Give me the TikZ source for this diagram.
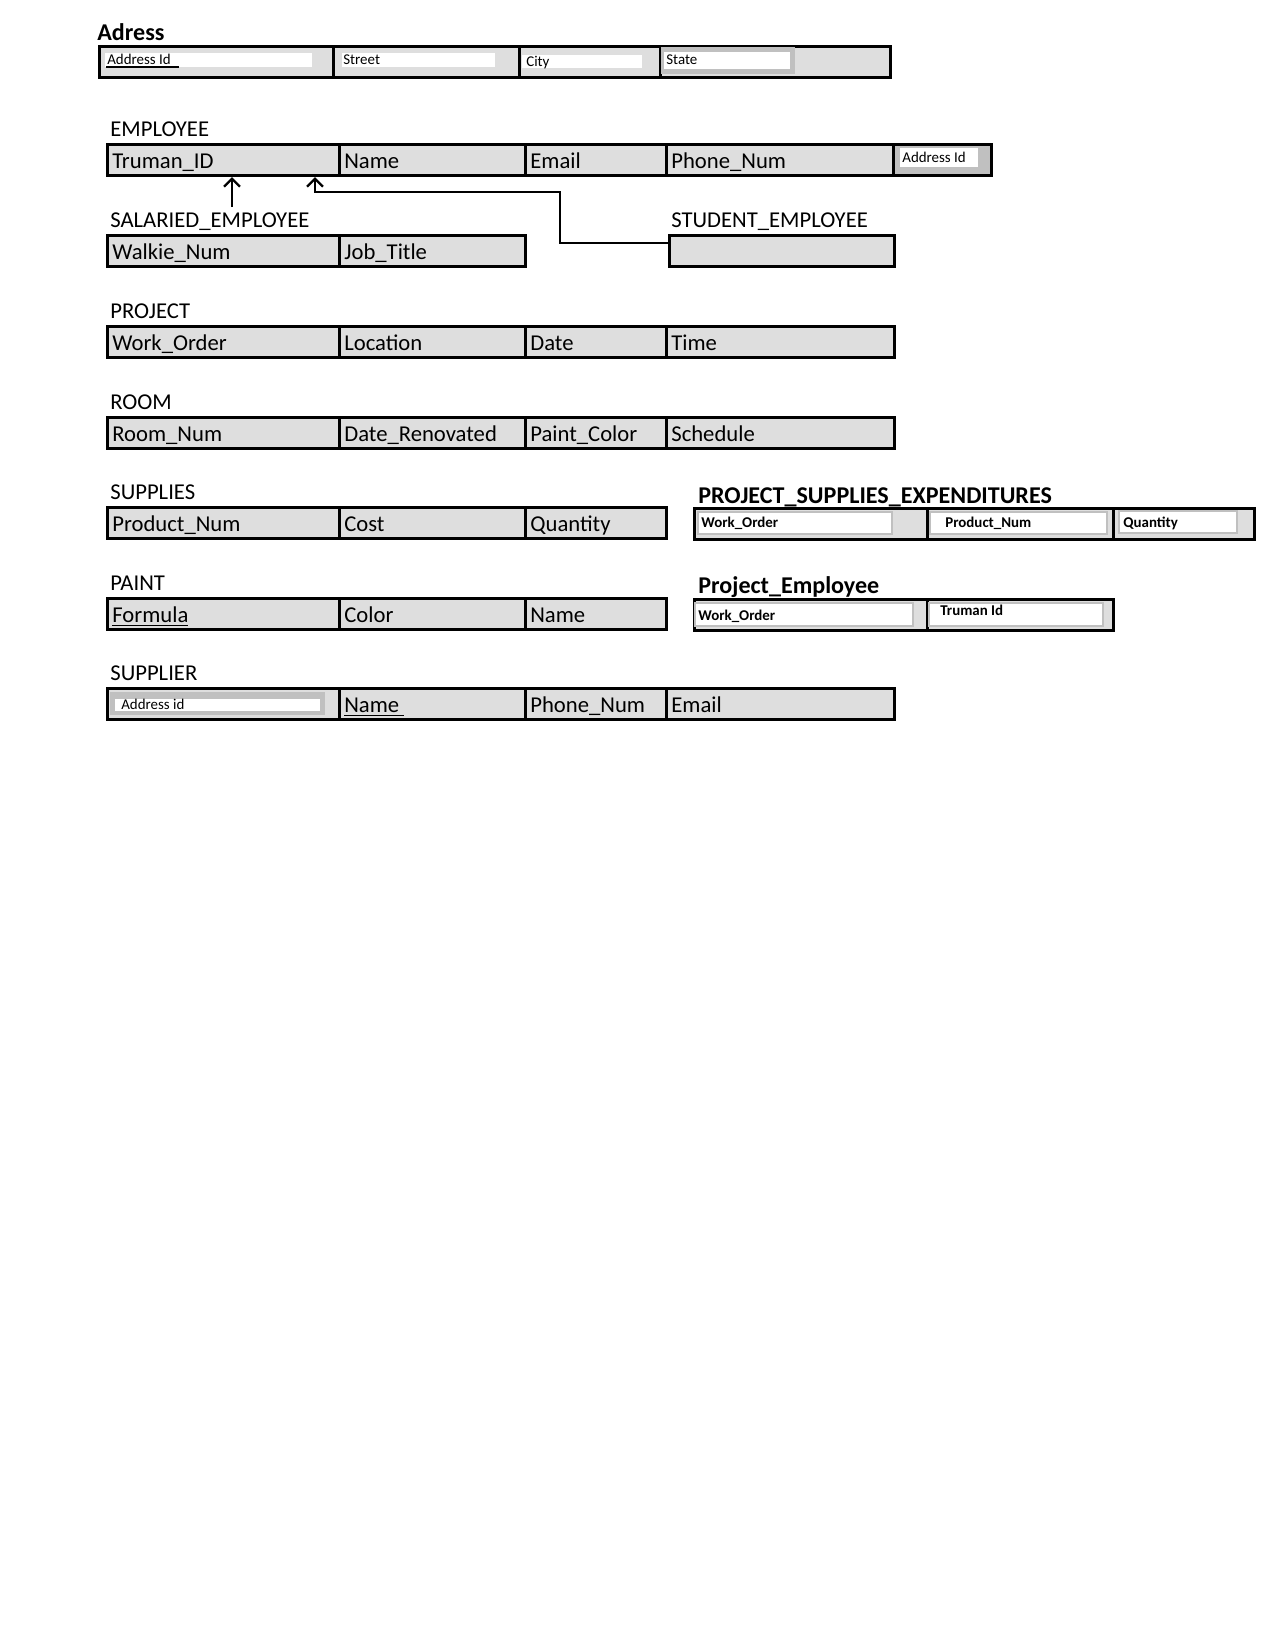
\documentclass[tikz,border=0pt]{standalone}
\usepackage{fontspec}
\setmainfont{Carlito}
\usepackage{tikz}
\usetikzlibrary{arrows.meta}
\definecolor{cellgray}{RGB}{222,222,222}
\definecolor{framegray}{RGB}{192,192,192}
\tikzset{>={Straight Barb[length=4.5pt,width=9pt]}}
\tikzset{
  cell/.style={draw, line width=1.7pt, fill=cellgray, anchor=north west, inner sep=0pt, minimum height=0.62cm},
  attr/.style={anchor=base west, inner sep=0pt, xshift=0.12cm, yshift=0.16cm, font=\fontsize{12.9}{15}\selectfont},
  tname/.style={anchor=base west, inner sep=0pt, font=\fontsize{12.9}{15}\selectfont},
  bname/.style={anchor=base west, inner sep=0pt, font=\fontsize{13.7}{16}\selectfont\bfseries},
  smalltxt/.style={anchor=base west, inner sep=0pt, font=\fontsize{8.5}{10}\selectfont},
  smallbold/.style={anchor=base west, inner sep=0pt, font=\fontsize{8.5}{10}\selectfont\bfseries},
  framebox/.style={draw=framegray, line width=1.4pt, fill=white}
}
\begin{document}
\begin{tikzpicture}[x=0.02cm, y=-0.02cm]
  \useasboundingbox (0,0) rectangle (1275,1650);

  % Adress
  \node[bname] (adrName) at (97,40) {Adress};
  \node[cell, minimum width=4.68cm] (adr1) at (98,45) {};
  \node[cell, minimum width=3.72cm] (adr2) at (332,45) {};
  \node[cell, minimum width=2.82cm] (adr3) at (518,45) {};
  \node[cell, minimum width=4.60cm] (adr4) at (659,45) {};
  \fill[white] (105,53) rectangle (312,67);
  \fill[white] (342,53) rectangle (495,67);
  \fill[white] (522,55) rectangle (642,68);
  \fill[framegray] (661,47) rectangle (795,74);
  \fill[white] (664,52) rectangle (790,69);
  \node[smalltxt] at (107,64) {Address Id};
  \draw[line width=1.4pt] (106,67) -- (179,67);
  \node[smalltxt] at (343,64) {Street};
  \node[smalltxt] at (526,66) {City};
  \node[smalltxt] at (666,64) {State};

  % EMPLOYEE
  \node[tname] (empName) at (110,136) {EMPLOYEE};
  \node[cell, minimum width=4.64cm] (emp1) at (106,143) {};
  \node[cell, minimum width=3.72cm] (emp2) at (338,143) {};
  \node[cell, minimum width=2.82cm] (emp3) at (524,143) {};
  \node[cell, minimum width=4.54cm] (emp4) at (665,143) {};
  \node[cell, minimum width=1.96cm, fill=framegray] (emp5) at (892,143) {};
  \node[attr] at (emp1.south west) {\underline{Truman\_ID}};
  \node[attr] at (emp2.south west) {Name};
  \node[attr] at (emp3.south west) {Email};
  \node[attr] at (emp4.south west) {Phone\_Num};
  \fill[white] (900,148) rectangle (978,167);
  \node[smalltxt] at (902,162) {Address Id};

  % SALARIED_EMPLOYEE / STUDENT_EMPLOYEE
  \node[tname] (salName) at (110,227) {SALARIED\_EMPLOYEE};
  \node[cell, minimum width=4.64cm] (sal1) at (106,234) {};
  \node[cell, minimum width=3.72cm] (sal2) at (338,234) {};
  \node[attr] at (sal1.south west) {Walkie\_Num};
  \node[attr] at (sal2.south west) {Job\_Title};
  \node[tname] (stuName) at (671,227) {STUDENT\_EMPLOYEE};
  \node[cell, minimum width=4.50cm] (stu) at (668,234) {};

  % subtype arrows
  \coordinate (salTop) at (232,207);
  \coordinate (tipA) at (232,177);
  \coordinate (stuIn) at (668,243);
  \coordinate (bend) at (560,192);
  \coordinate (tipB) at (315,177);
  \draw[->, line width=1.4pt] (salTop) -- (tipA);
  \draw[->, line width=1.4pt] (stuIn) -| (bend) -| (tipB);

  % PROJECT
  \node[tname] (prjName) at (110,318) {PROJECT};
  \node[cell, minimum width=4.64cm] (prj1) at (106,325) {};
  \node[cell, minimum width=3.72cm] (prj2) at (338,325) {};
  \node[cell, minimum width=2.82cm] (prj3) at (524,325) {};
  \node[cell, minimum width=4.56cm] (prj4) at (665,325) {};
  \node[attr] at (prj1.south west) {\underline{Work\_Order}};
  \node[attr] at (prj2.south west) {Location};
  \node[attr] at (prj3.south west) {Date};
  \node[attr] at (prj4.south west) {Time};

  % ROOM
  \node[tname] (romName) at (110,409) {ROOM};
  \node[cell, minimum width=4.64cm] (rom1) at (106,416) {};
  \node[cell, minimum width=3.72cm] (rom2) at (338,416) {};
  \node[cell, minimum width=2.82cm] (rom3) at (524,416) {};
  \node[cell, minimum width=4.56cm] (rom4) at (665,416) {};
  \node[attr] at (rom1.south west) {\underline{Room\_Num}};
  \node[attr] at (rom2.south west) {Date\_Renovated};
  \node[attr] at (rom3.south west) {Paint\_Color};
  \node[attr] at (rom4.south west) {Schedule};

  % SUPPLIES
  \node[tname] (supName) at (110,499) {SUPPLIES};
  \node[cell, minimum width=4.64cm] (sup1) at (106,506) {};
  \node[cell, minimum width=3.72cm] (sup2) at (338,506) {};
  \node[cell, minimum width=2.82cm] (sup3) at (524,506) {};
  \node[attr] at (sup1.south west) {\underline{Product\_Num}};
  \node[attr] at (sup2.south west) {Cost};
  \node[attr] at (sup3.south west) {Quantity};

  % PROJECT_SUPPLIES_EXPENDITURES
  \node[bname] (pseName) at (698,503) {PROJECT\_SUPPLIES\_EXPENDITURES};
  \node[cell, minimum width=4.66cm] (pse1) at (693,507) {};
  \node[cell, minimum width=3.72cm] (pse2) at (926,507) {};
  \node[cell, minimum width=2.82cm] (pse3) at (1112,507) {};
  \draw[framebox] (698,512) rectangle (892,534);
  \draw[framebox] (930,512) rectangle (1107,534);
  \draw[framebox] (1119,511) rectangle (1237,533);
  \node[smallbold] at (701,527) {Work\_Order};
  \node[smallbold] at (945,527) {Product\_Num};
  \node[smallbold] at (1123,527) {Quantity};

  % PAINT
  \node[tname] (pntName) at (110,590) {PAINT};
  \node[cell, minimum width=4.64cm] (pnt1) at (106,597) {};
  \node[cell, minimum width=3.72cm] (pnt2) at (338,597) {};
  \node[cell, minimum width=2.82cm] (pnt3) at (524,597) {};
  \node[attr] at (pnt1.south west) {\underline{Formula}};
  \node[attr] at (pnt2.south west) {Color};
  \node[attr] at (pnt3.south west) {Name};

  % Project_Employee
  \node[bname] (pemName) at (698,593) {Project\_Employee};
  \node[cell, minimum width=4.66cm] (pem1) at (693,598) {};
  \node[cell, minimum width=3.72cm] (pem2) at (926,598) {};
  \draw[framebox] (695,603) rectangle (913,626);
  \draw[framebox] (929,603) rectangle (1103,626);
  \node[smallbold] at (698,620) {Work\_Order};
  \node[smallbold] at (940,615) {Truman Id};

  % SUPPLIER
  \node[tname] (splName) at (110,680) {SUPPLIER};
  \node[cell, minimum width=4.64cm] (spl1) at (106,687) {};
  \node[cell, minimum width=3.72cm] (spl2) at (338,687) {};
  \node[cell, minimum width=2.82cm] (spl3) at (524,687) {};
  \node[cell, minimum width=4.56cm] (spl4) at (665,687) {};
  \fill[framegray] (110,692) rectangle (325,715);
  \fill[white] (115,699) rectangle (320,711);
  \node[smalltxt] at (121,709) {Address id};
  \node[attr] at (spl2.south west) {\underline{Name\ }};
  \node[attr] at (spl3.south west) {Phone\_Num};
  \node[attr] at (spl4.south west) {Email};
\end{tikzpicture}
\end{document}
